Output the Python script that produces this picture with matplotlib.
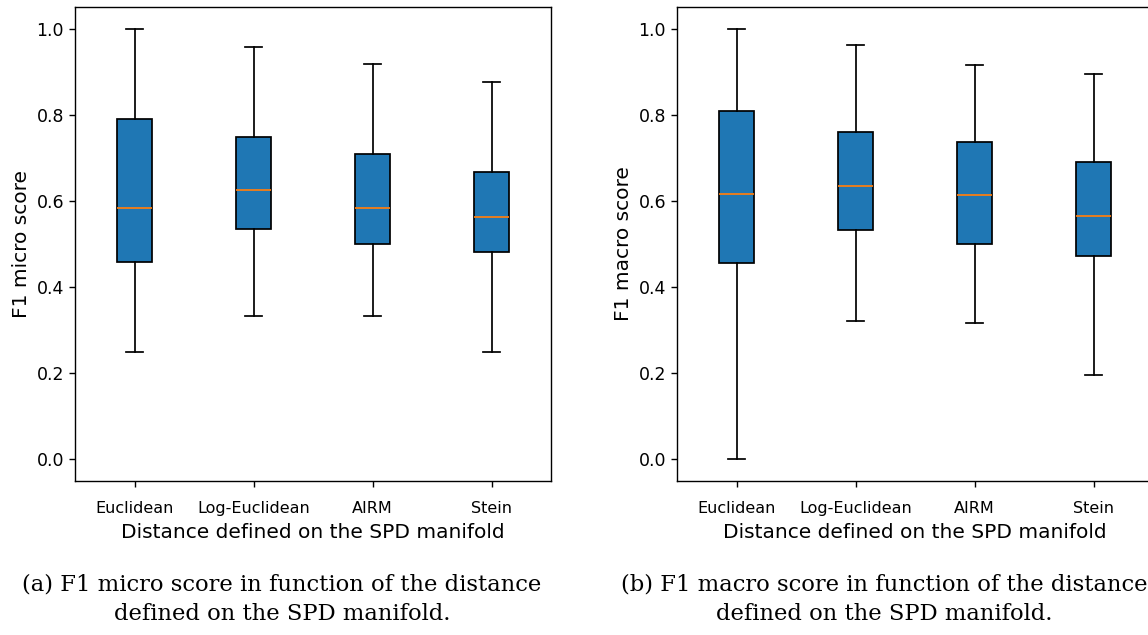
import matplotlib
matplotlib.use("Agg")
import matplotlib.pyplot as plt

distances = ["Euclidean", "Log-Euclidean", "AIRM", "Stein"]

# F1 micro : whisker low, Q1, median, Q3, whisker high
micro_bas = [0.25, 0.333, 0.333, 0.25]
micro_q1 = [0.458, 0.534, 0.500, 0.482]
micro_med = [0.583, 0.625, 0.583, 0.563]
micro_q3 = [0.791, 0.749, 0.708, 0.666]
micro_haut = [1.0, 0.958, 0.917, 0.875]

# F1 macro
macro_bas = [0.0, 0.322, 0.316, 0.195]
macro_q1 = [0.457, 0.533, 0.501, 0.471]
macro_med = [0.617, 0.634, 0.614, 0.566]
macro_q3 = [0.808, 0.759, 0.736, 0.691]
macro_haut = [1.0, 0.961, 0.915, 0.895]


def construire_stats(bas, q1, med, q3, haut):
    stats = []
    for i in range(len(distances)):
        stats.append({"label": distances[i], "whislo": bas[i], "q1": q1[i],
                      "med": med[i], "q3": q3[i], "whishi": haut[i], "fliers": []})
    return stats


def tracer_boite(ax, stats, ylabel):
    lw = 1.25
    ax.bxp(stats, widths=0.3, patch_artist=True, showfliers=False,
           boxprops=dict(facecolor="#1f77b4", edgecolor="black", linewidth=lw),
           whiskerprops=dict(color="black", linewidth=lw),
           capprops=dict(color="black", linewidth=lw),
           medianprops=dict(color="#ff7f0e", linewidth=lw))
    ax.set_ylim(-0.05, 1.05)
    ax.set_xlim(0.5, 4.5)
    ax.set_yticks([0.0, 0.2, 0.4, 0.6, 0.8, 1.0])
    ax.set_ylabel(ylabel, fontsize=14.5)
    ax.set_xlabel("Distance defined on the SPD manifold", fontsize=14.5, labelpad=5)
    ax.tick_params(labelsize=12.5, length=4.4, width=1.0)
    ax.tick_params(axis="x", labelsize=11.5, pad=10)
    for s in ax.spines.values():
        s.set_linewidth(1.0)


fig = plt.figure(figsize=(11.48, 6.35), dpi=100)
ax1 = fig.add_axes([75 / 1148, 1 - 481 / 635, 476 / 1148, 474 / 635])
ax2 = fig.add_axes([677 / 1148, 1 - 481 / 635, 476 / 1148, 474 / 635])

tracer_boite(ax1, construire_stats(micro_bas, micro_q1, micro_med, micro_q3, micro_haut), "F1 micro score")
tracer_boite(ax2, construire_stats(macro_bas, macro_q1, macro_med, macro_q3, macro_haut), "F1 macro score")

police = dict(family="DejaVu Serif", fontsize=16.3, ha="center", va="center")
fig.text(282 / 1148, 1 - 585 / 635, "(a) F1 micro score in function of the distance", **police)
fig.text(282 / 1148, 1 - 614 / 635, "defined on the SPD manifold.", **police)
fig.text(884 / 1148, 1 - 585 / 635, "(b) F1 macro score in function of the distance", **police)
fig.text(884 / 1148, 1 - 614 / 635, "defined on the SPD manifold.", **police)

fig.savefig("out.png", dpi=100)
